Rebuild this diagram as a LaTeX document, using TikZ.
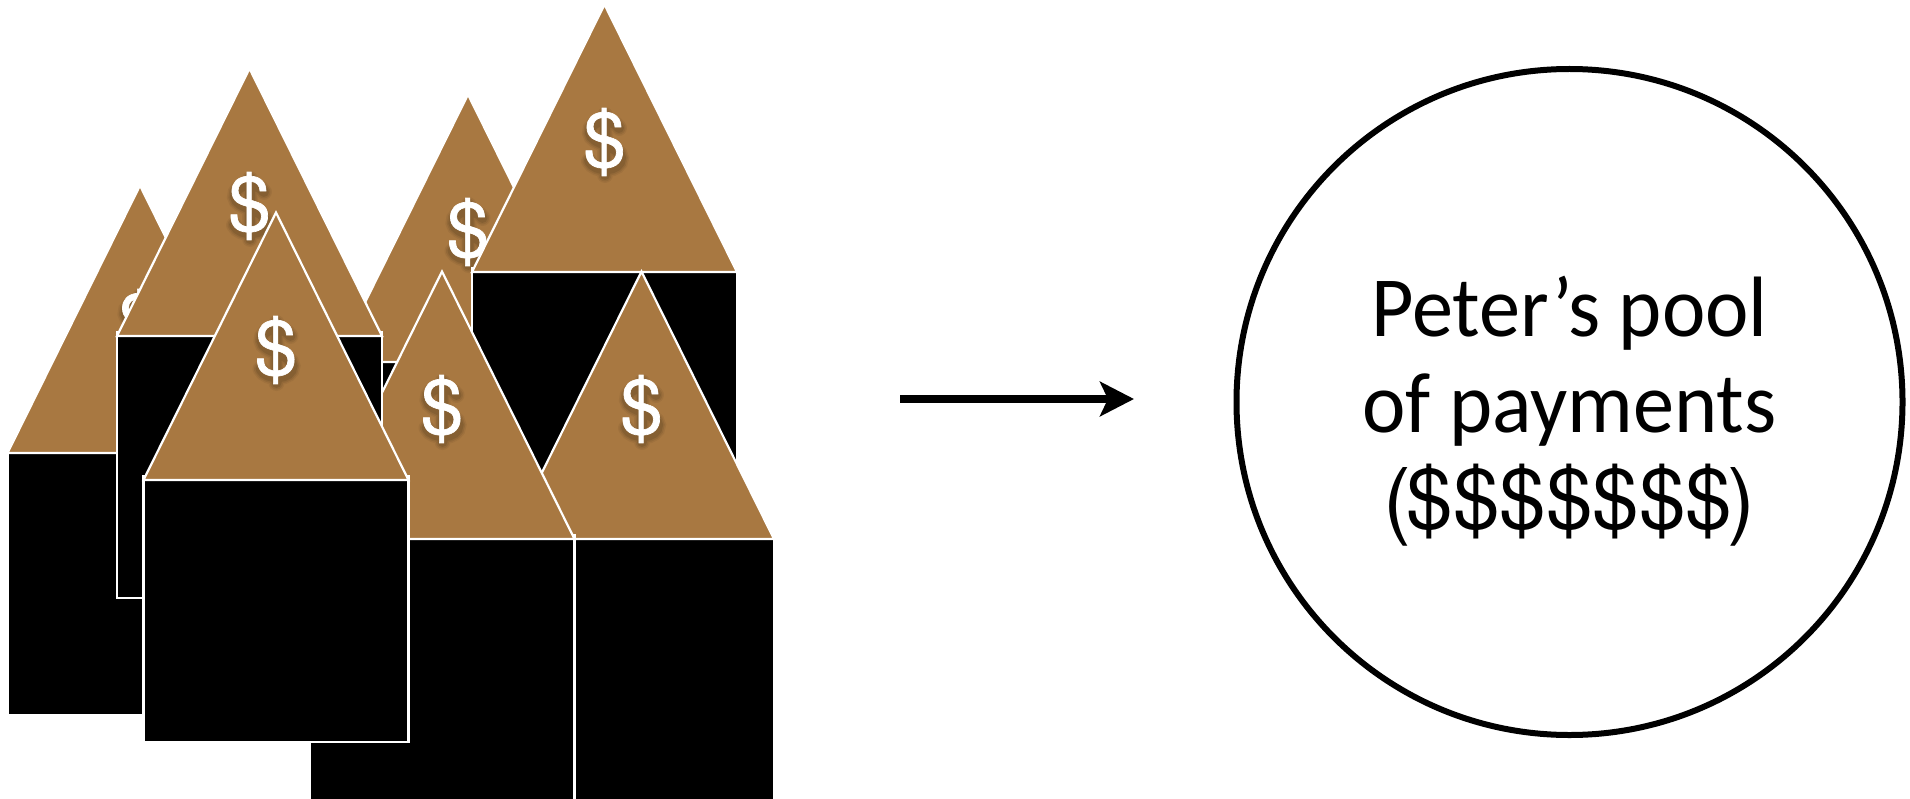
\documentclass[tikz,border=0pt]{standalone}
\usepackage{fontspec}
\setmainfont{Carlito}
\newfontfamily\textfnt[FakeStretch=0.96]{Carlito}
\newfontfamily\dfont{TeX Gyre Heros}
\newfontfamily\dfontb[FakeBold=0.9]{TeX Gyre Heros}
\usetikzlibrary{arrows.meta}
\definecolor{roofc}{HTML}{A87841}
\tikzset{
  x=1bp,y=-1bp,
  roof/.style={fill=roofc,draw=white,line width=2.2bp,line join=miter},
  wall/.style={fill=black,draw=white,line width=2.2bp},
  dollar/.style={text=white,font=\dfontb\fontsize{76}{76}\selectfont,inner sep=0pt,anchor=center},
  shade1/.style={draw=black,draw opacity=.05,line width=16bp,line cap=round},
  shade2/.style={draw=black,draw opacity=.07,line width=13bp,line cap=round},
  shade3/.style={draw=black,draw opacity=.09,line width=10bp,line cap=round},
  pooltext/.style={font=\textfnt\fontsize{86}{96}\selectfont,inner sep=0pt,text=black,anchor=base},
  poolsum/.style={font=\dfont\fontsize{84}{96}\selectfont,inner sep=0pt,text=black,anchor=base},
  poolc/.style={circle,draw=black,line width=6bp,fill=white,minimum size=666bp,inner sep=0pt},
  flow/.style={draw=black,line width=8bp,-{Stealth[length=34bp,width=34.5bp,inset=8bp]}}
}
% soft shadow under a dollar sign, #1 style, #2 x, #3 y
\newcommand{\dshade}[3]{%
  \draw[#1,shift={(#2+0.5,#3+3)}]
    (14,-17) .. controls (8,-27) and (-16,-26) .. (-15,-12)
    .. controls (-14,0) and (15,0) .. (16,13)
    .. controls (16,27) and (-10,28) .. (-16,16)
    (0,-30) -- (0,30);
}
% #1 name, #2 centre x, #3 base y
\newcommand{\hhouse}[3]{%
  \draw[wall] (#2-132.5,#3-4) rectangle (#2+132.5,#3+262);
  \draw[roof] (#2-132.5,#3) -- (#2,#3-267.5) -- (#2+132.5,#3) -- cycle;
  \dshade{shade1}{#2}{#3-130}
  \dshade{shade2}{#2}{#3-130}
  \dshade{shade3}{#2}{#3-130}
  \node[dollar] (#1d) at (#2,#3-130) {\$};
}
\begin{document}
\begin{tikzpicture}
\useasboundingbox (0,0) rectangle (1910,799);
\begin{scope}
\clip (0,0) rectangle (1910,799);
\hhouse{a}{140}{453}
\hhouse{c}{468}{362}
\hhouse{d}{604.5}{272}
\hhouse{g}{641.5}{539}
\hhouse{f}{442}{539}
\hhouse{b}{249.5}{336}
\hhouse{e}{276}{480}
\end{scope}
\node[poolc] (pool) at (1569.5,402) {};
\node[pooltext] (pta) at (1569.5,336) {Peter’s pool};
\node[pooltext] (ptb) at (1569.5,432) {of payments};
\begin{scope}
\clip (1300,450) rectangle (1850,547);
\node[poolsum] (ptc) at (1569.5,528) {(\kern-5bp\$\$\$\$\$\$\$\kern-5bp)};
\end{scope}
\coordinate (as) at (900,399);
\coordinate (ae) at (1134,399);
\draw[flow] (as) -- (ae);
\end{tikzpicture}
\end{document}
